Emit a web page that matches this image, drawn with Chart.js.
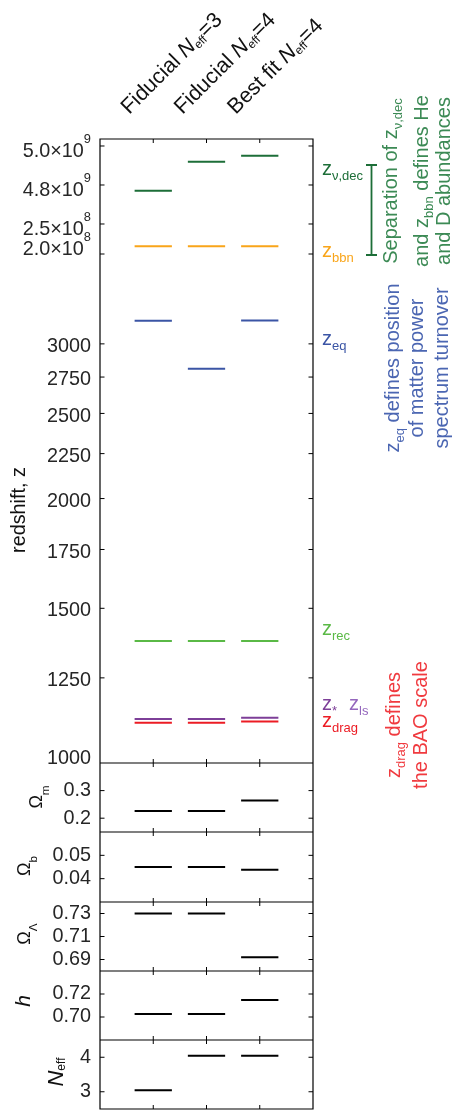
<!DOCTYPE html>
<html>
<head>
<meta charset="utf-8">
<title>Redshifts of early-universe epochs</title>
<script src="https://cdn.jsdelivr.net/npm/chart.js@4.4.1/dist/chart.umd.min.js"></script>
<style>
  html, body { margin: 0; padding: 0; background: #fff; }
  canvas { display: block; }
</style>
</head>
<body>
<canvas id="chart" width="456" height="1110"></canvas>
<script>
const FONT = "'Liberation Sans', Arial, Helvetica, sans-serif";
const TICK_SIZE = 19.8;
const INK = '#262626';
const CAT_HALF = 0.35;

// models (columns)
const modelNames = ['Fiducial', 'Fiducial', 'Best fit'];
const modelNeff = ['3', '4', '4'];
const categoryPos = [1, 2, 3];

// characteristic redshifts per model
const zNuDec = [4.771e9, 4.919e9, 4.950e9];
const zBBN   = [2.13e8, 2.13e8, 2.13e8];
const zEq    = [3187, 2810, 3190];
const zRec   = [1377, 1377, 1377];
const zStar  = [1122, 1122, 1126];
const zDrag  = [1111, 1111, 1115];

// cosmological parameters per model
const omegaM  = [0.226, 0.226, 0.264];
const omegaB  = [0.045, 0.045, 0.0438];
const omegaL  = [0.730, 0.730, 0.692];
const hubbleH = [0.7026, 0.7026, 0.7148];
const nEff    = [3.04, 4.04, 4.04];

// ticks
const zTicks = [1000, 1250, 1500, 1750, 2000, 2250, 2500, 2750, 3000, 2.0e8, 2.5e8, 4.8e9, 5.0e9];
const zTickLabels = ['1000', '1250', '1500', '1750', '2000', '2250', '2500', '2750', '3000',
  '2.0×10^{8}', '2.5×10^{8}', '4.8×10^{9}', '5.0×10^{9}'];
const omegaMTicks = [0.2, 0.3];
const omegaMTickLabels = ['0.2', '0.3'];
const omegaBTicks = [0.04, 0.05];
const omegaBTickLabels = ['0.04', '0.05'];
const omegaLTicks = [0.69, 0.71, 0.73];
const omegaLTickLabels = ['0.69', '0.71', '0.73'];
const hubbleTicks = [0.70, 0.72];
const hubbleTickLabels = ['0.70', '0.72'];
const nEffTicks = [3, 4];
const nEffTickLabels = ['3', '4'];

// side notes
const notesBBN  = ['Separation of z_{ν,dec}', 'and z_{bbn} defines He', 'and D abundances'];
const notesEq   = ['z_{eq} defines position', 'of matter power', 'spectrum turnover'];
const notesDrag = ['z_{drag} defines', 'the BAO scale'];

const COLORS = {
  nuDec: '#1d6e38', bbn: '#f9a51a', eq: '#3b55a5', rec: '#5ab946',
  star: '#7d3f98', drag: '#ec1c24', param: '#000000'
};

// Redshift axis: logarithmic above z = 1000, then two short linear pieces
// for the much earlier BBN and neutrino-decoupling epochs.
const Z_LOG_GAIN = 0.6114;
const Z_PIECES = [
  [2.0e8, 2.5e8, 0.8157, 0.8638],
  [4.8e9, 5.0e9, 0.9263, 0.9888]
];
function zFraction(z) {
  if (z < 1e6) return Z_LOG_GAIN * Math.log(z / 1000);
  const p = z < 1e9 ? Z_PIECES[0] : Z_PIECES[1];
  return p[2] + (z - p[0]) / (p[1] - p[0]) * (p[3] - p[2]);
}
function zFromFraction(f) {
  if (f < Z_PIECES[0][2] - 0.05) return 1000 * Math.exp(f / Z_LOG_GAIN);
  const p = f < Z_PIECES[1][2] - 0.02 ? Z_PIECES[0] : Z_PIECES[1];
  return p[0] + (f - p[2]) / (p[3] - p[2]) * (p[1] - p[0]);
}

class BrokenRedshiftScale extends Chart.LinearScale {
  static id = 'brokenRedshift';
  buildTicks() { return zTicks.map(v => ({ value: v })); }
  getPixelForValue(value) { return this.getPixelForDecimal(zFraction(value)); }
  getValueForPixel(pixel) { return zFromFraction(this.getDecimalForPixel(pixel)); }
}
Chart.register(BrokenRedshiftScale);

// rich text: _{sub}, ^{sup}, |italic|
function parseRich(str) {
  const runs = [];
  let buf = '', italic = false;
  const flush = () => { if (buf) { runs.push({ text: buf, kind: 'base', italic }); buf = ''; } };
  for (let i = 0; i < str.length; i++) {
    const ch = str[i];
    if ((ch === '_' || ch === '^') && str[i + 1] === '{') {
      flush();
      const end = str.indexOf('}', i + 2);
      runs.push({ text: str.slice(i + 2, end), kind: ch === '_' ? 'sub' : 'sup', italic: false });
      i = end;
    } else if (ch === '|') {
      flush();
      italic = !italic;
    } else {
      buf += ch;
    }
  }
  flush();
  return runs;
}
function drawRich(ctx, str, x, y, o) {
  const size = o.size, fam = o.family || FONT;
  const subScale = o.subScale ?? 0.65, subDrop = o.subDrop ?? 0.27;
  const supScale = o.supScale ?? 0.65, supRise = o.supRise ?? 0.72;
  const runs = parseRich(str);
  const fontOf = r => (r.italic ? 'italic ' : '') +
    (r.kind === 'base' ? size : size * (r.kind === 'sub' ? subScale : supScale)) + 'px ' + fam;
  let total = 0;
  runs.forEach(r => { ctx.font = fontOf(r); r.w = ctx.measureText(r.text).width; total += r.w; });
  let cx = o.align === 'right' ? x - total : o.align === 'center' ? x - total / 2 : x;
  ctx.textAlign = 'left';
  ctx.textBaseline = 'alphabetic';
  ctx.fillStyle = o.color;
  runs.forEach(r => {
    ctx.font = fontOf(r);
    const dy = r.kind === 'sub' ? size * subDrop : r.kind === 'sup' ? -size * supRise : 0;
    ctx.fillText(r.text, cx, y + dy);
    cx += r.w;
  });
}
function drawVertical(ctx, str, baseX, centerY, o) {
  ctx.save();
  ctx.translate(baseX, centerY);
  ctx.rotate(-Math.PI / 2);
  drawRich(ctx, str, 0, 0, Object.assign({ align: 'center' }, o));
  ctx.restore();
}

function segments(values) {
  const pts = [];
  values.forEach((v, i) => {
    const c = categoryPos[i];
    pts.push({ x: c - CAT_HALF, y: v }, { x: c + CAT_HALF, y: v }, { x: c + CAT_HALF, y: null });
  });
  return pts;
}

const series = [
  { data: zNuDec, axis: 'yz', color: COLORS.nuDec },
  { data: zBBN, axis: 'yz', color: COLORS.bbn },
  { data: zEq, axis: 'yz', color: COLORS.eq },
  { data: zRec, axis: 'yz', color: COLORS.rec },
  { data: zDrag, axis: 'yz', color: COLORS.drag },
  { data: zStar, axis: 'yz', color: COLORS.star },
  { data: omegaM, axis: 'yOm', color: COLORS.param },
  { data: omegaB, axis: 'yOb', color: COLORS.param },
  { data: omegaL, axis: 'yOl', color: COLORS.param },
  { data: hubbleH, axis: 'yH', color: COLORS.param },
  { data: nEff, axis: 'yN', color: COLORS.param }
];

const PANEL_IDS = ['yz', 'yOm', 'yOb', 'yOl', 'yH', 'yN'];

// fixed-width axis box with no extra label overhang above/below
function fixAxisBox(s) {
  s.width = 100;
  s.paddingTop = 0;
  s.paddingBottom = 0;
}

function smallPanel(ticks, labels, min, max, stackWeight, order) {
  return {
    type: 'linear', position: 'left', stack: 'panels', stackWeight, weight: order, min, max,
    afterBuildTicks: s => { s.ticks = ticks.map(v => ({ value: v })); },
    ticks: {
      callback: (v, i) => labels[i], color: INK, autoSkip: false,
      font: { family: FONT, size: TICK_SIZE }, padding: 9
    },
    grid: { display: false, drawTicks: false },
    border: { display: false },
    afterFit: fixAxisBox
  };
}

const decorations = {
  id: 'decorations',
  afterDraw(chart) {
    const { ctx, chartArea: a, scales } = chart;
    const sx = scales.x;
    const panels = PANEL_IDS.map(id => scales[id]);
    ctx.save();

    // panel frames
    ctx.strokeStyle = '#000';
    ctx.lineWidth = 1.2;
    ctx.beginPath();
    ctx.rect(a.left, a.top, a.right - a.left, a.bottom - a.top);
    panels.forEach(s => { ctx.moveTo(a.left, s.bottom); ctx.lineTo(a.right, s.bottom); });
    ctx.stroke();

    // inward tick marks on all four sides of each panel
    ctx.lineWidth = 1;
    ctx.beginPath();
    panels.forEach(s => {
      s.ticks.forEach(t => {
        const y = s.getPixelForValue(t.value);
        if (y <= s.top + 1 || y >= s.bottom - 1) return;
        ctx.moveTo(a.left, y); ctx.lineTo(a.left + 4.5, y);
        ctx.moveTo(a.right - 4.5, y); ctx.lineTo(a.right, y);
      });
      categoryPos.forEach(c => {
        const x = sx.getPixelForValue(c);
        ctx.moveTo(x, s.top); ctx.lineTo(x, s.top + 4);
        ctx.moveTo(x, s.bottom - 4); ctx.lineTo(x, s.bottom);
      });
    });
    ctx.stroke();

    // redshift tick labels
    const yz = scales.yz;
    zTicks.forEach((v, i) => {
      const label = zTickLabels[i];
      let y = yz.getPixelForValue(v) + 0.358 * TICK_SIZE + (label.includes('^') ? 4 : 1);
      if (v === 1000) y -= 7;
      if (v === 2.0e8) y -= 10;
      drawRich(ctx, label, a.left - 9, y, { size: TICK_SIZE, color: INK, align: 'right' });
    });

    // model names, rotated above the columns
    categoryPos.forEach((c, i) => {
      const x = sx.getPixelForValue(c);
      ctx.save();
      ctx.translate(x - 24, 115);
      ctx.rotate(-Math.PI / 4);
      drawRich(ctx, modelNames[i] + ' |N|_{eff}=' + modelNeff[i], 0, 0,
        { size: 21.5, color: '#111', align: 'left', subScale: 0.55, subDrop: 0.12 });
      ctx.restore();
    });

    // axis titles
    drawVertical(ctx, 'redshift, z', 25, 510, { size: 19.8, color: '#111' });
    drawVertical(ctx, 'Ω_{m}', 42, 797, { size: 18, color: '#111', subDrop: 0.4 });
    drawVertical(ctx, 'Ω_{b}', 30, 866, { size: 18, color: '#111', subDrop: 0.4 });
    drawVertical(ctx, 'Ω_{Λ}', 30, 934, { size: 18, color: '#111', subDrop: 0.4 });
    drawVertical(ctx, '|h|', 30, 1001, { size: 21, color: '#111' });
    drawVertical(ctx, '|N|_{eff}', 63, 1072, { size: 22, color: '#111', subScale: 0.55, subDrop: 0.1 });

    // epoch labels beside the lines
    const zLabel = (str, x, y, color) => drawRich(ctx, str, x, y, { size: 20, color, align: 'left' });
    zLabel('z_{ν,dec}', 322, 175, COLORS.nuDec);
    zLabel('z_{bbn}', 322, 257, COLORS.bbn);
    zLabel('z_{eq}', 322, 345, COLORS.eq);
    zLabel('z_{rec}', 322, 635, COLORS.rec);
    zLabel('z_{*}', 322, 710, COLORS.star);
    zLabel('z_{ls}', 349, 710, '#9467bd');
    zLabel('z_{drag}', 322, 727, COLORS.drag);

    // bracket joining z_nu,dec and z_bbn
    ctx.strokeStyle = COLORS.nuDec;
    ctx.lineWidth = 1.8;
    ctx.beginPath();
    ctx.moveTo(371.5, 165); ctx.lineTo(371.5, 255);
    ctx.moveTo(366, 165); ctx.lineTo(377, 165);
    ctx.moveTo(366, 255); ctx.lineTo(377, 255);
    ctx.stroke();

    // rotated explanatory notes
    const blocks = [
      [notesBBN, [397, 428, 450], 181, '#3c8a55'],
      [notesEq, [399, 423, 448], 368, '#4b66b2'],
      [notesDrag, [400, 427], 725, '#f03a3f']
    ];
    blocks.forEach(([lines, bases, cy, color]) => {
      lines.forEach((txt, i) => drawVertical(ctx, txt, bases[i], cy, { size: 20, color }));
    });

    ctx.restore();
  }
};

Chart.defaults.font.family = FONT;

new Chart(document.getElementById('chart'), {
  type: 'line',
  data: {
    datasets: series.map(s => ({
      data: segments(s.data), yAxisID: s.axis, borderColor: s.color, borderWidth: 2,
      pointRadius: 0, fill: false, tension: 0, spanGaps: false, borderCapStyle: 'butt'
    }))
  },
  options: {
    responsive: false,
    animation: false,
    devicePixelRatio: 1,
    events: [],
    layout: { autoPadding: false, padding: { top: 139, right: 143, bottom: 1, left: 0 } },
    plugins: { legend: { display: false }, tooltip: { enabled: false } },
    scales: {
      x: { type: 'linear', min: 0, max: 4, display: false },
      yz: {
        type: 'brokenRedshift', position: 'left', stack: 'panels', stackWeight: 624, weight: 6,
        min: 1000, max: 5.036e9,
        ticks: { display: false, callback: (v, i) => zTickLabels[i] },
        grid: { display: false, drawTicks: false },
        border: { display: false },
        afterFit: fixAxisBox
      },
      yOm: smallPanel(omegaMTicks, omegaMTickLabels, 0.15, 0.40, 69, 5),
      yOb: smallPanel(omegaBTicks, omegaBTickLabels, 0.03, 0.06, 70, 4),
      yOl: smallPanel(omegaLTicks, omegaLTickLabels, 0.68, 0.74, 69, 3),
      yH: smallPanel(hubbleTicks, hubbleTickLabels, 0.68, 0.74, 69, 2),
      yN: smallPanel(nEffTicks, nEffTickLabels, 2.5, 4.5, 69, 1)
    }
  },
  plugins: [decorations]
});
</script>
</body>
</html>
